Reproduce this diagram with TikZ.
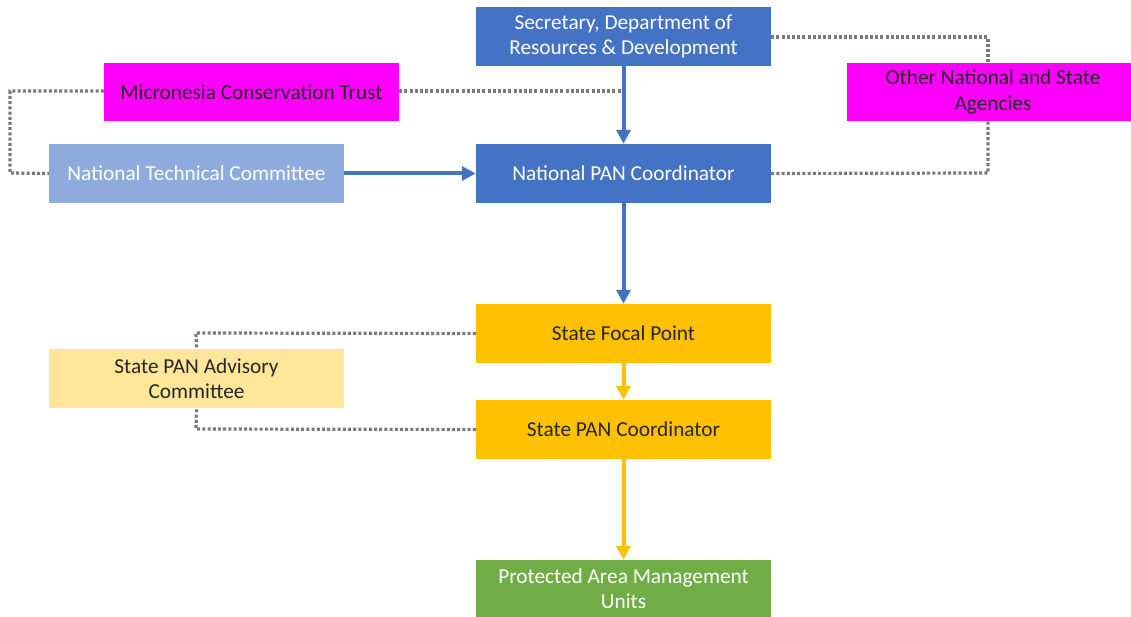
\documentclass[tikz,border=0pt]{standalone}
\usepackage{fontspec}
\setmainfont{Carlito}
\usetikzlibrary{arrows.meta}
\definecolor{cblue}{HTML}{4472C4}
\definecolor{clblue}{HTML}{8FAADC}
\definecolor{cmag}{HTML}{FF00FF}
\definecolor{cgold}{HTML}{FFC000}
\definecolor{clgold}{HTML}{FFE699}
\definecolor{cgreen}{HTML}{70AD47}
\definecolor{cdot}{HTML}{7A7A7A}
\definecolor{ctext}{HTML}{262626}
\tikzset{
  box/.style={draw=none, minimum width=295pt, minimum height=59pt, inner sep=0pt,
    align=center, font=\fontsize{21.3}{25.5}\selectfont},
  bluebox/.style={box, fill=cblue, text=white},
  lbluebox/.style={box, fill=clblue, text=white},
  magbox/.style={box, fill=cmag, text=ctext},
  goldbox/.style={box, fill=cgold, text=ctext},
  lgoldbox/.style={box, fill=clgold, text=ctext},
  greenbox/.style={box, fill=cgreen, text=white},
  dotline/.style={draw=cdot, line width=3.2pt, dash pattern=on 3pt off 2.2pt},
  bluearrow/.style={draw=cblue, line width=4pt, -{Triangle[length=14pt,width=14pt]}},
  goldarrow/.style={draw=cgold, line width=4pt, -{Triangle[length=14pt,width=14pt]}},
}
\begin{document}
\begin{tikzpicture}[x=1pt,y=-1pt]
\useasboundingbox (0,0) rectangle (1131,617);
\node[bluebox] (sec) at (623.5,36.5) {\raisebox{-1.5pt}{\parbox{290pt}{\centering Secretary, Department of\\Resources \& Development}}};
\node[bluebox] (npc) at (623.5,173.5) {National PAN Coordinator};
\node[magbox, minimum width=295pt, minimum height=58pt] (mct) at (251.5,92) {Micronesia Conservation Trust};
\node[lbluebox] (ntc) at (196.5,173.5) {National Technical Committee};
\node[magbox, minimum width=292pt, minimum height=58pt] (oth) at (993,92) {Other National and State\\Agencies};
\node[goldbox] (sfp) at (623.5,333.5) {State Focal Point};
\node[goldbox] (spc) at (623.5,429.5) {State PAN Coordinator};
\node[lgoldbox] (spac) at (196.5,378.5) {State PAN Advisory\\Committee};
\node[greenbox, minimum height=57pt] (pamu) at (623.5,588.5) {Protected Area Management\\Units};
\coordinate (mctj) at (623.5,91);
% dotted
\draw[dotline] (mct.east |- mctj) -- (mctj);
\draw[dotline] (mct.west |- mctj) -- (10,91) -- (10,173) -- (ntc.west);
\draw[dotline] (sec.east |- 0,37) -- (988,37) -- (988,63);
\draw[dotline] (npc.east) -- (988,173) -- (988,121);
\draw[dotline] (sfp.west) -- (196,333) -- (spac.north);
\draw[dotline] (spc.west) -- (196,429) -- (spac.south);
% arrows
\draw[bluearrow] (sec.south) -- (npc.north);
\draw[bluearrow] (ntc.east) -- (npc.west);
\draw[bluearrow] (npc.south) -- (sfp.north);
\draw[goldarrow] (sfp.south) -- (spc.north);
\draw[goldarrow] (spc.south) -- (pamu.north);
\end{tikzpicture}
\end{document}
